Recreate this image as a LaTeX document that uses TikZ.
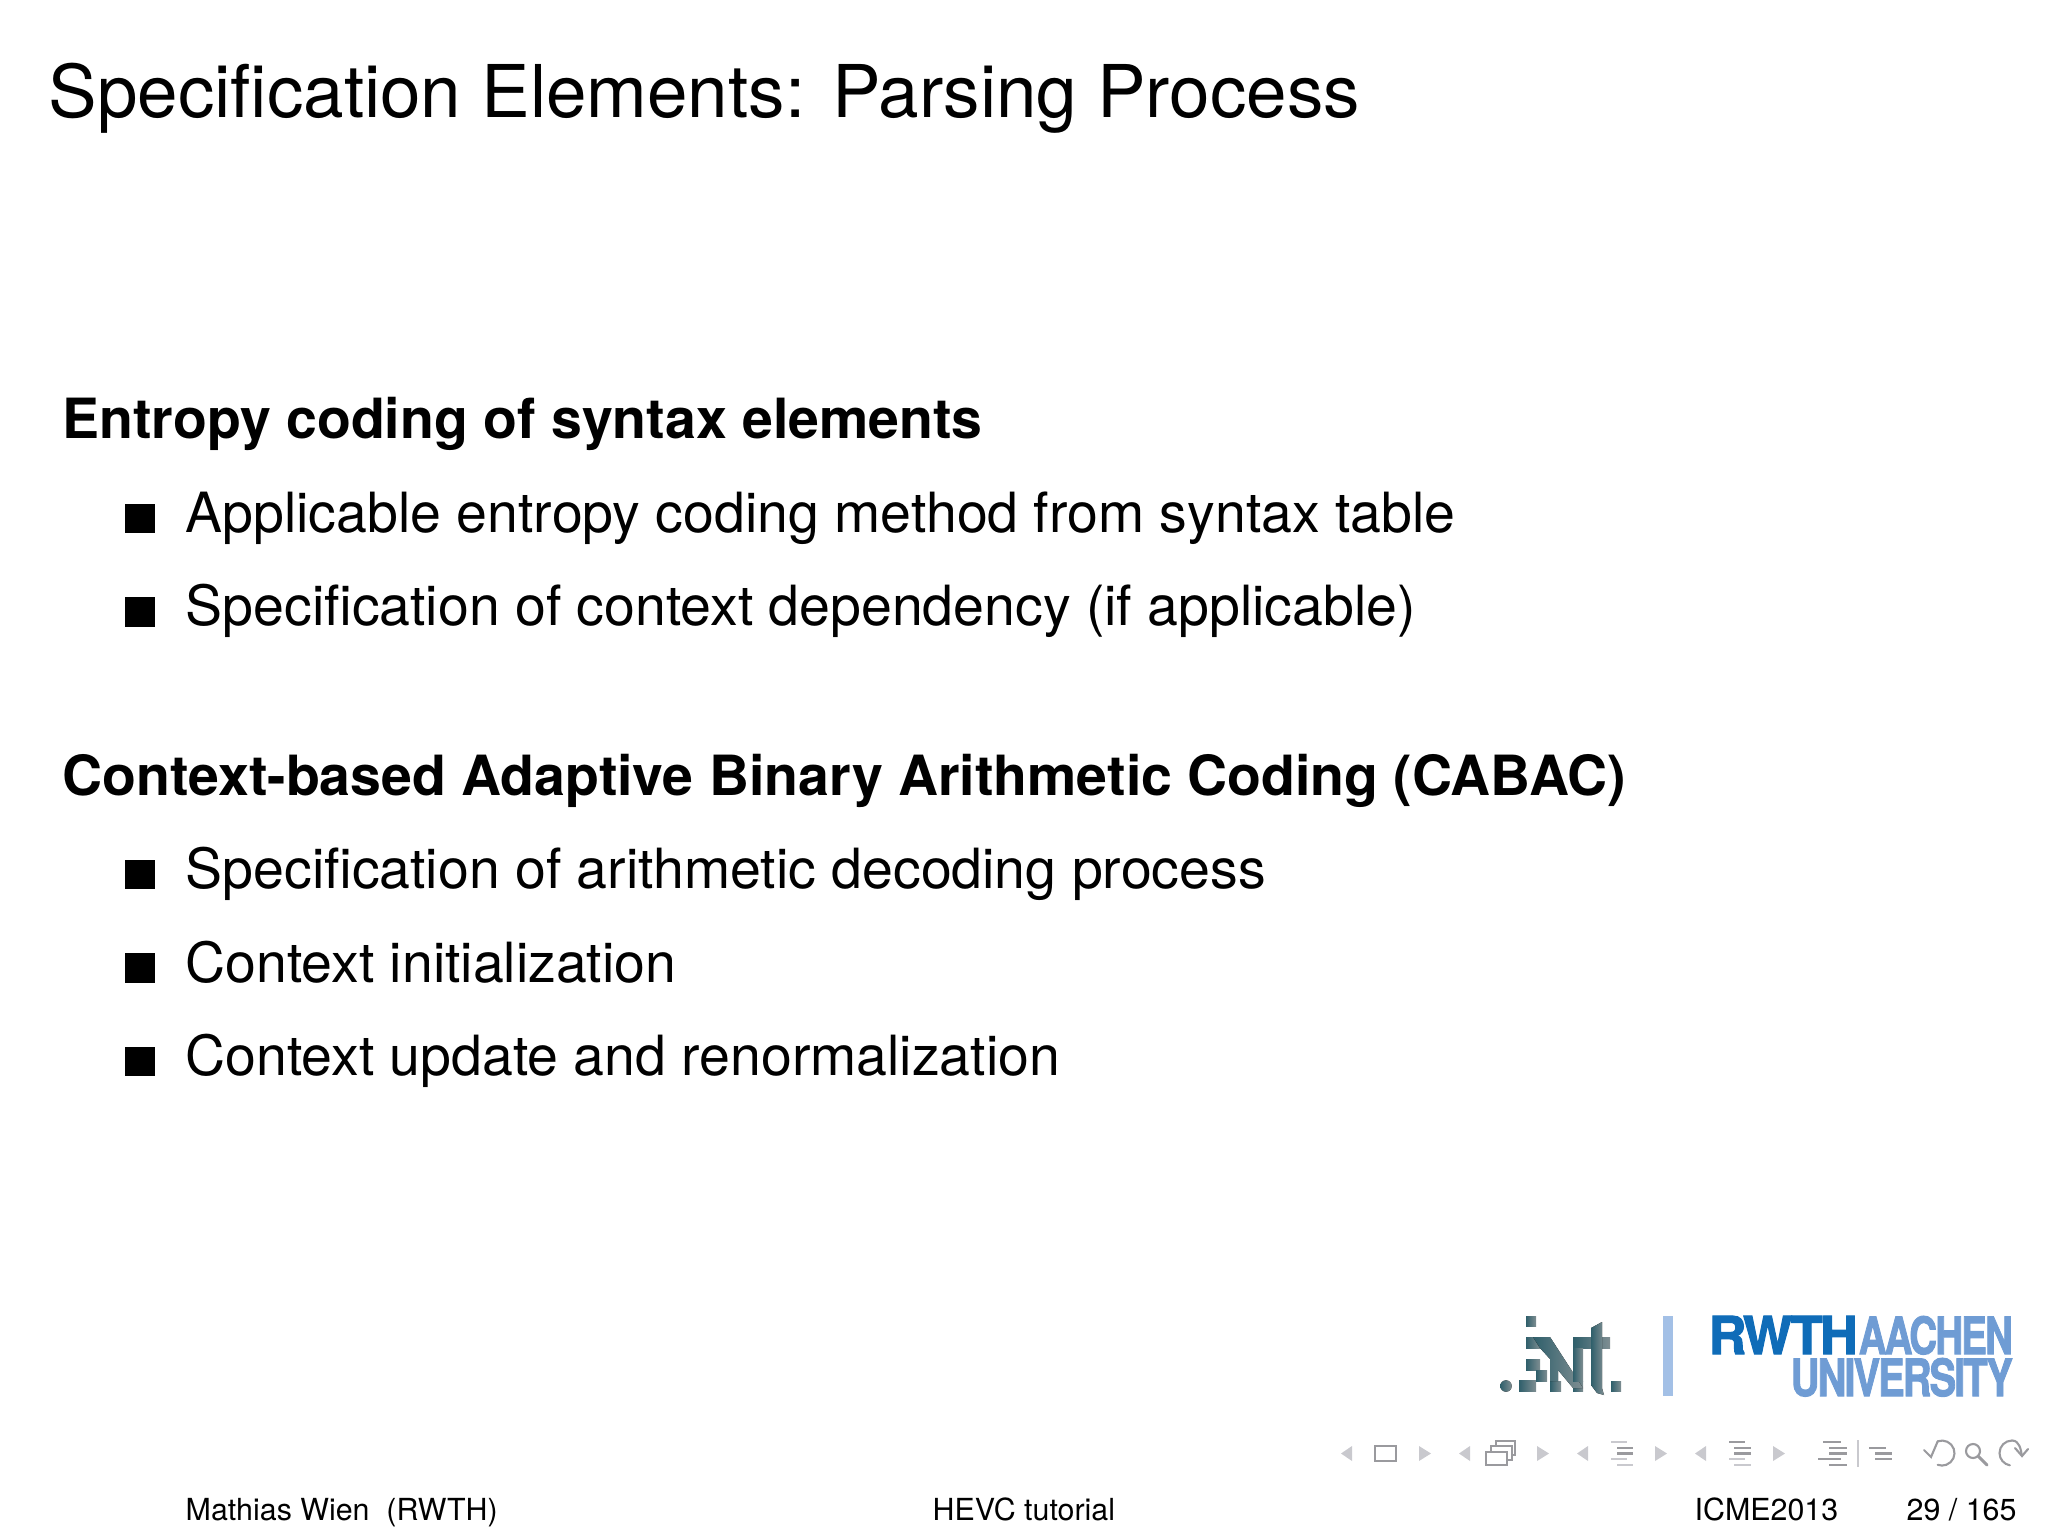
\documentclass[tikz,border=0pt]{standalone}
\usepackage{fontspec}
\setmainfont{TeX Gyre Heros}
\newfontfamily\rwthfont[FakeBold=2,LetterSpace=-5]{TeX Gyre Heros}
\definecolor{rwthblue}{HTML}{0F6CB8}
\definecolor{rwthlight}{HTML}{6F9CD4}
\definecolor{rwthbar}{HTML}{A3C0E6}
\definecolor{navgray}{HTML}{C9C9CE}
\definecolor{navdark}{HTML}{9A9A9E}
\definecolor{ientteal}{HTML}{2F5F6B}
\definecolor{ientgray}{HTML}{7F8E92}
\tikzset{
  titletext/.style={anchor=base west,inner sep=0pt,font=\fontsize{20.7}{25}\selectfont},
  headtext/.style={anchor=base west,inner sep=0pt,font=\fontsize{15.76}{19}\selectfont\bfseries},
  itemtext/.style={anchor=base west,inner sep=0pt,font=\fontsize{15.76}{19}\selectfont},
  foottext/.style={anchor=base west,inner sep=0pt,font=\fontsize{8.64}{10}\selectfont},
  logotext/.style={anchor=base west,inner sep=0pt,font=\rwthfont\bfseries},
  navarrow/.style={fill=navgray,draw=none},
  navline/.style={line width=0.75pt,navdark},
  navlight/.style={line width=0.75pt,navgray},
  navicon/.style={draw=navdark,line width=0.6pt},
  ientblock/.style={left color=ientteal,right color=ientgray,draw=none}
}
\begin{document}
\begin{tikzpicture}[x=0.01cm,y=-0.01cm]
  \useasboundingbox (0,0) rectangle (2048,1536);
  % slide text
  \node[titletext](title) at (48,117) {Specification Elements: Parsing Process};
  \node[headtext](headone) at (62,438.5) {Entropy coding of syntax elements};
  \node[itemtext](itemone) at (185,532) {Applicable entropy coding method from syntax table};
  \node[itemtext](itemtwo) at (185,625.5) {Specification of context dependency (if applicable)};
  \node[headtext](headtwo) at (62,795.5) {Context-based Adaptive Binary Arithmetic Coding (CABAC)};
  \node[itemtext](itemthree) at (185,888.5) {Specification of arithmetic decoding process};
  \node[itemtext](itemfour) at (185,982) {Context initialization};
  \node[itemtext](itemfive) at (185,1075.5) {Context update and renormalization};
  \foreach \by in {533,626.5,889,982.5,1076}
    \fill (125,\by) rectangle (155,\by-29.5);
  % footer
  \node[foottext](author) at (185,1520) {Mathias Wien\ \ (RWTH)};
  \node[foottext](talk) at (932,1520) {HEVC tutorial};
  \node[foottext](venue) at (1694,1520) {ICME2013};
  \node[foottext](page) at (1906,1520) {29 / 165};
  % logos
  \fill[ientblock] (1526,1316) rectangle (1536,1326);
  \fill[ientblock] (1506,1386) circle (5.7);
  \fill[ientblock] (1519,1380) rectangle (1536,1391);
  \fill[ientblock] (1526,1337) rectangle (1540,1348);
  \fill[ientblock] (1526,1359) rectangle (1540,1370);
  \fill[ientblock] (1536,1370) rectangle (1547,1381);
  \fill[ientblock] (1550,1381) rectangle (1561,1391);
  \fill[ientblock] (1573,1381) rectangle (1583,1391);
  \fill[ientblock] (1611,1381) rectangle (1621,1391);
  \fill[ientblock] (1533,1337) -- (1550,1337) -- (1583,1388) -- (1573,1388) -- (1558,1370) -- (1558,1381) -- (1550,1381) -- (1550,1359) -- (1540,1348) -- cycle;
  \fill[ientblock] (1573,1337) rectangle (1610,1348);
  \fill[ientblock] (1573,1348) rectangle (1583,1381);
  \fill[ientblock] (1591,1328) -- (1602,1322) -- (1602,1388) -- (1604,1395) -- (1597,1393) -- (1591,1385) -- cycle;
  \fill[rwthbar] (1663,1316) rectangle (1673,1396);
  \node[logotext,text=rwthblue](rwth) at (1708,1354) {\resizebox{1.49cm}{0.38cm}{RWTH}};
  \node[logotext,text=rwthlight](aachen) at (1858,1354) {\resizebox{1.54cm}{0.38cm}{AACHEN}};
  \node[logotext,text=rwthlight](univ) at (1790,1396) {\resizebox{2.22cm}{0.38cm}{UNIVERSITY}};
  % navigation symbols
  \foreach \tx in {1341,1459,1577,1695}
    \fill[navarrow] (\tx,1453.5) -- (\tx+11,1446) -- (\tx+11,1461) -- cycle;
  \foreach \tx in {1431,1549,1667,1785}
    \fill[navarrow] (\tx,1453.5) -- (\tx-12,1446) -- (\tx-12,1461) -- cycle;
  \draw[navicon] (1375,1446) rectangle (1396,1461);
  \draw[navicon] (1486,1452) rectangle (1507,1465);
  \draw[navicon] (1491,1452) -- (1491,1446) -- (1512,1446) -- (1512,1460) -- (1507,1460);
  \draw[navicon] (1496,1446) -- (1496,1441) -- (1515,1441) -- (1515,1455) -- (1512,1455);
  \draw[navlight] (1611,1442) -- (1627,1442) (1611,1459) -- (1627,1459) (1617,1465) -- (1633,1465);
  \draw[navline] (1617,1448) -- (1633,1448) (1617,1453.5) -- (1633,1453.5);
  \draw[navline] (1729,1442) -- (1745,1442) (1734,1448) -- (1751,1448) (1734,1453.5) -- (1751,1453.5);
  \draw[navlight] (1729,1459) -- (1745,1459) (1734,1465) -- (1751,1465);
  \draw[navline] (1823,1442) -- (1841,1442) (1829,1448) -- (1847,1448) (1829,1453.5) -- (1847,1453.5)
      (1818,1459) -- (1841,1459) (1829,1465) -- (1847,1465);
  \draw[navgray,line width=0.6pt] (1858,1440) -- (1858,1467);
  \draw[navline] (1869,1448) -- (1886,1448) (1875,1453.5) -- (1892,1453.5) (1875,1459) -- (1892,1459);
  % undo, search, redo
  \draw[navicon,line cap=round] (1937.7,1441.3) arc[start angle=-110,end angle=110,radius=12.5];
  \draw[navicon,line cap=round] (1924,1450) -- (1931,1457) -- (1937.7,1441.3);
  \draw[navicon] (1973,1451) circle (7);
  \draw[navicon,line width=0.85pt,line cap=round] (1978,1456) -- (1987,1465);
  \draw[navicon,line cap=round] (2012,1440.5) arc[start angle=-90,end angle=-260,radius=12.5];
  \draw[navicon,line cap=round] (2012,1440.5) to[out=0,in=100] (2022,1456);
  \draw[navicon,line cap=round] (2015,1448) -- (2022,1456) -- (2028,1449);
\end{tikzpicture}
\end{document}
